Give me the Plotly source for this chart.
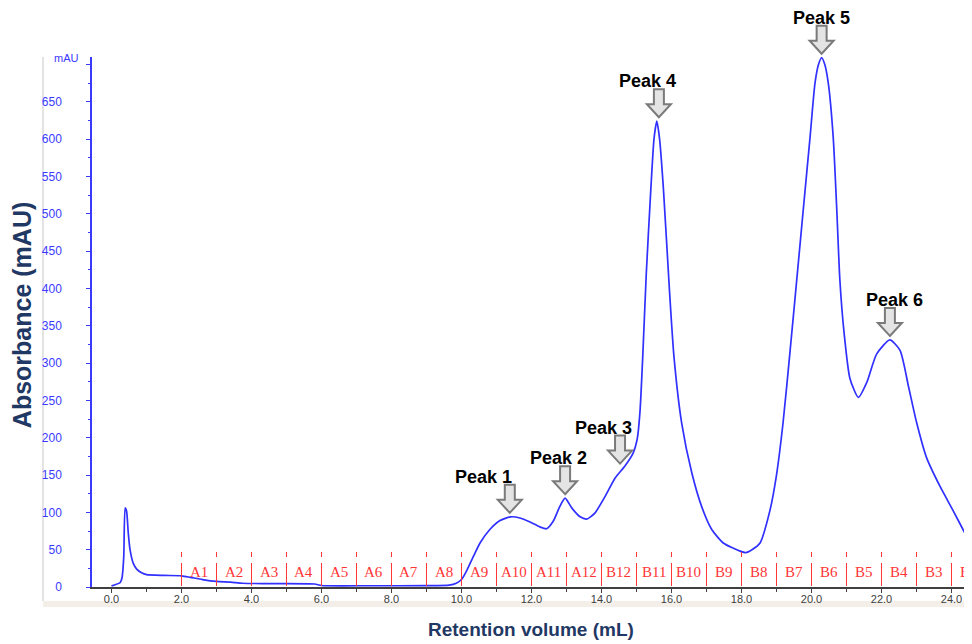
import plotly.graph_objects as go

# ---------------- data ----------------
volume_ml = [0.00, 0.10, 0.25, 0.30, 0.35, 0.39, 0.43, 0.48, 0.53, 0.62, 0.72, 0.86, 1.00,
             1.50, 2.00, 2.25, 2.60, 3.00, 3.40, 3.75, 4.50, 5.80, 6.00, 7.40, 9.00, 9.65,
             9.85, 10.00, 10.15, 10.34, 10.53, 10.81, 11.10, 11.40, 11.67, 11.96, 12.24,
             12.43, 12.62, 12.81, 12.96, 13.15, 13.39, 13.58, 13.81, 14.10, 14.39, 14.67,
             14.91, 15.02, 15.10, 15.18, 15.28, 15.41, 15.50, 15.58, 15.66, 15.77, 15.94,
             16.07, 16.29, 16.58, 16.86, 17.15, 17.48, 17.96, 18.12, 18.30, 18.53, 18.81,
             19.00, 19.19, 19.39, 19.58, 19.77, 19.96, 20.10, 20.20, 20.29, 20.38, 20.48,
             20.62, 20.72, 20.81, 20.93, 21.10, 21.34, 21.58, 21.86, 22.24, 22.53, 22.77,
             23.00, 23.29, 23.67, 24.05, 24.43, 24.60]
absorbance_mau = [1.5, 3, 6, 12, 40, 106, 102, 72, 50, 32, 24, 19, 16.5,
                  15.5, 15, 13, 10, 7.5, 6.5, 5, 4.5, 4, 2, 1.7, 1.8, 2.5,
                  5, 10, 22, 41, 59, 77, 89, 94, 92.5, 87, 80.5,
                  78, 88, 108, 119, 106, 94, 91, 99, 121, 146, 162,
                  180, 198, 235, 310, 420, 533, 600, 624, 600, 533, 399,
                  309, 220, 153, 108, 77, 59, 48, 46, 50, 59, 102,
                  150, 221, 317, 412, 508, 603, 675, 700, 709, 700, 675,
                  603, 508, 412, 341, 279, 254, 274, 312, 331, 317, 269,
                  221, 173, 135, 102, 68, 54]

peak_names = ["Peak 1", "Peak 2", "Peak 3", "Peak 4", "Peak 5", "Peak 6"]
peak_x = [11.38, 12.96, 14.53, 15.64, 20.29, 22.24]
peak_y = [94, 119, 160, 624, 709, 331]

fraction_start = [2, 3, 4, 5, 6, 7, 8, 9, 10, 11, 12, 13,
                  14, 15, 16, 17, 18, 19, 20, 21, 22, 23, 24]
fraction_labels = ["A1", "A2", "A3", "A4", "A5", "A6", "A7", "A8", "A9", "A10", "A11", "A12",
                   "B12", "B11", "B10", "B9", "B8", "B7", "B6", "B5", "B4", "B3", "B2"]

x_tick_vals = [0, 2, 4, 6, 8, 10, 12, 14, 16, 18, 20, 22, 24]
x_tick_text = ["0.0", "2.0", "4.0", "6.0", "8.0", "10.0", "12.0", "14.0", "16.0",
               "18.0", "20.0", "22.0", "24.0"]
x_minor_vals = [1, 3, 5, 7, 9, 11, 13, 15, 17, 19, 21, 23]
y_tick_vals = [0, 50, 100, 150, 200, 250, 300, 350, 400, 450, 500, 550, 600, 650, 700]
y_tick_text = ["0", "50", "100", "150", "200", "250", "300", "350", "400", "450",
               "500", "550", "600", "650", ""]

# ---------------- style ----------------
X_RANGE = [-0.557, 24.586]
Y_RANGE = [0, 710]
CURVE = "#3030ff"
AXIS_BLUE = "#3a3aff"
RED = "#ff3535"
NAVY = "#1f3864"
label_xshift = [-26, -7, -17, -11, 0, 5]

fig = go.Figure()
fig.add_trace(go.Scatter(x=volume_ml, y=absorbance_mau, mode="lines",
                         line=dict(color=CURVE, width=1.7, shape="spline", smoothing=0.6),
                         hoverinfo="skip"))

shapes = []
annotations = []

# fraction markers
for s, lab in zip(fraction_start, fraction_labels):
    for y0, y1 in ((1, 24), (30, 35)):
        shapes.append(dict(type="line", xref="x", yref="y", x0=s, x1=s,
                           ysizemode="pixel", yanchor=0, y0=y0, y1=y1,
                           line=dict(color=RED, width=1)))
    annotations.append(dict(x=s + 0.5, y=0, xref="x", yref="y", text=lab,
                            showarrow=False, yshift=15, yanchor="middle",
                            font=dict(family="Liberation Serif", size=15, color=RED)))

# peak arrows (y given as fraction of the y-axis span so arrows above the plot stay visible)
arrow_path = "M 0 4 L -12 17 L -5 17 L -5 32 L 5 32 L 5 17 L 12 17 Z"
for name, px, py, xs in zip(peak_names, peak_x, peak_y, label_xshift):
    shapes.append(dict(type="path", xref="x", yref="y domain", xsizemode="pixel",
                       ysizemode="pixel", xanchor=px,
                       yanchor=(py - Y_RANGE[0]) / (Y_RANGE[1] - Y_RANGE[0]),
                       path=arrow_path, fillcolor="#e4e4e4",
                       line=dict(color="#7a7a7a", width=2), layer="above"))
    annotations.append(dict(x=px, y=py, xref="x", yref="y", text="<b>" + name + "</b>",
                            showarrow=False, yshift=40, xshift=xs, yanchor="middle",
                            font=dict(family="Liberation Sans", size=18, color="black")))

# frame decorations
shapes.append(dict(type="line", xref="paper", yref="paper", x0=-0.0557, x1=-0.0557,
                   y0=1, y1=-0.0264, line=dict(color="#c8c8c8", width=1), layer="below"))
shapes.append(dict(type="rect", xref="paper", yref="paper", x0=-0.0557, x1=1,
                   y0=-0.0264, y1=-0.0377, fillcolor="#f3efe8", line=dict(width=0),
                   layer="below"))

annotations.append(dict(x=-0.046, y=1, xref="paper", yref="paper", text="mAU",
                        showarrow=False, yanchor="middle", yshift=-1,
                        font=dict(family="Liberation Sans", size=11, color=AXIS_BLUE)))
annotations.append(dict(x=-0.0795, y=0.513, xref="paper", yref="paper",
                        text="<b>Absorbance (mAU)</b>", textangle=-90, showarrow=False,
                        xanchor="center", yanchor="middle",
                        font=dict(family="Liberation Sans", size=25, color=NAVY)))
annotations.append(dict(x=0.4989, y=-0.0811, xref="paper", yref="paper",
                        text="<b>Retention volume (mL)</b>", showarrow=False,
                        xanchor="center", yanchor="middle",
                        font=dict(family="Liberation Sans", size=19, color=NAVY)))

# page body has an 8px default margin, so the figure is 8px smaller than the window
fig.update_layout(
    width=964, height=636,
    margin=dict(l=84, r=0, t=49, b=57, autoexpand=False),
    plot_bgcolor="white", paper_bgcolor="white",
    showlegend=False,
    shapes=shapes, annotations=annotations,
    xaxis=dict(range=X_RANGE, tickmode="array", tickvals=x_tick_vals,
               ticktext=x_tick_text, ticks="outside", ticklen=4, tickcolor="#404040",
               showline=True, linecolor="#404040", linewidth=2, showgrid=False,
               zeroline=False, ticklabelstandoff=-3, automargin=False,
               tickfont=dict(family="Liberation Sans", size=11, color="#404040"),
               minor=dict(tickmode="array", tickvals=x_minor_vals, ticks="outside",
                          ticklen=3, tickcolor="#404040", showgrid=False)),
    yaxis=dict(range=Y_RANGE, tickmode="array", tickvals=y_tick_vals, ticktext=y_tick_text,
               ticks="outside", ticklen=4, tickcolor=AXIS_BLUE, showline=True,
               linecolor=AXIS_BLUE, linewidth=1.5, showgrid=False, zeroline=False,
               ticklabelstandoff=22, automargin=False,
               tickfont=dict(family="Liberation Sans", size=12, color=AXIS_BLUE),
               minor=dict(dtick=25, ticks="outside", ticklen=2, tickcolor=AXIS_BLUE,
                          showgrid=False)),
)

fig.write_html("out.html")
